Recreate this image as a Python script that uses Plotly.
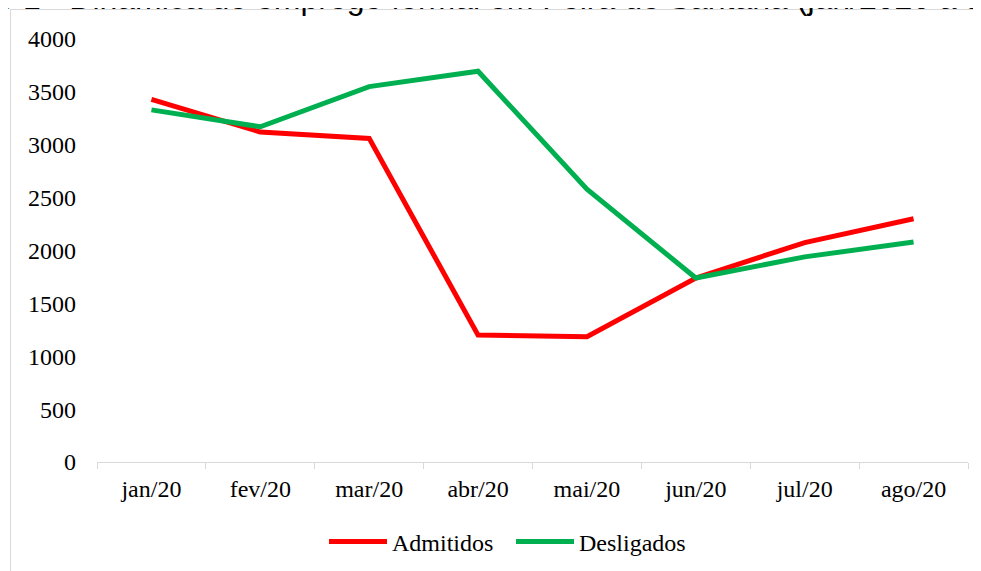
import plotly.graph_objects as go

meses = ["jan/20", "fev/20", "mar/20", "abr/20", "mai/20", "jun/20", "jul/20", "ago/20"]
admitidos = [3430, 3120, 3060, 1200, 1185, 1740, 2075, 2300]
desligados = [3330, 3170, 3550, 3695, 2580, 1740, 1940, 2080]
y_ticks = [0, 500, 1000, 1500, 2000, 2500, 3000, 3500, 4000]
titulo = "Gráfico 1 - Dinâmica do emprego formal em Feira de Santana (jan/2020 a ago/2020)"

# the page body has an 8px default margin: work in page pixels, convert to figure pixels
OFF = 8
W, H = 981 - OFF, 571 - OFF
PL, PR, PT, PB = 97, 968, 39, 462          # plot area in page pixels
ML, MR, MT, MB = PL - OFF, W - (PR - OFF), PT - OFF, H - (PB - OFF)
PW, PH = W - ML - MR, H - MT - MB

def px(x):
    return (x - OFF - ML) / PW

def py(y):
    return (H - MB - (y - OFF)) / PH

fig = go.Figure()
fig.add_trace(go.Scatter(x=meses, y=admitidos, name="Admitidos", mode="lines",
                         line=dict(color="#FF0000", width=5)))
fig.add_trace(go.Scatter(x=meses, y=desligados, name="Desligados", mode="lines",
                         line=dict(color="#00B050", width=5)))

fig.update_layout(
    width=W, height=H,
    margin=dict(l=ML, r=MR, t=MT, b=MB, autoexpand=False),
    paper_bgcolor="white", plot_bgcolor="white",
    font=dict(family="Liberation Serif, Times New Roman, serif", size=24, color="#000000"),
    showlegend=True,
    legend=dict(orientation="h", x=px(324), y=py(542), xanchor="left", yanchor="middle",
                font=dict(size=24), itemwidth=58, entrywidth=114, entrywidthmode="pixels",
                tracegroupgap=0, bgcolor="rgba(0,0,0,0)"),
    xaxis=dict(type="category", range=[-0.5, 7.5], showline=True, linecolor="#D9D9D9",
               linewidth=1, ticks="outside", tickson="boundaries", ticklen=6,
               tickcolor="#D9D9D9", showgrid=False, zeroline=False,
               ticklabelstandoff=5),
    yaxis=dict(range=[0, 4000], tickvals=y_ticks, showline=False, showgrid=False,
               zeroline=False, ticks="", ticklabelstandoff=20),
    shapes=[dict(type="rect", xref="paper", yref="paper",
                 x0=px(10.5), x1=px(990), y0=py(580), y1=py(9.5),
                 line=dict(color="#D9D9D9", width=1), fillcolor="rgba(0,0,0,0)",
                 layer="below")],
    annotations=[dict(text=titulo, xref="paper", yref="paper", x=px(-91), y=py(-2),
                      xanchor="left", yanchor="middle", showarrow=False,
                      font=dict(family="Liberation Sans, Arial, sans-serif", size=32,
                                color="#000000"))],
)

fig.write_html("out.html")
